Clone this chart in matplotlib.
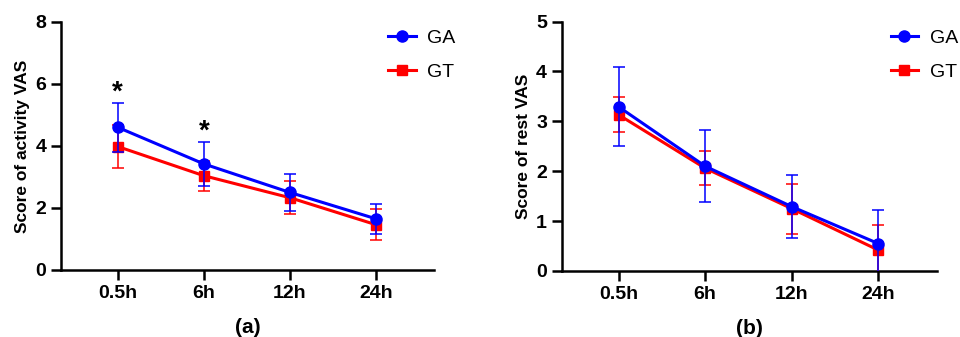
import numpy as np
import matplotlib.pyplot as plt
from matplotlib.lines import Line2D

plt.rcParams['font.family'] = ['Liberation Sans', 'DejaVu Sans']

# ---- data ----
times = ['0.5h', '6h', '12h', '24h']

act_ga = [4.6, 3.42, 2.5, 1.65]
act_ga_sd = [0.8, 0.72, 0.6, 0.49]
act_gt = [3.98, 3.04, 2.33, 1.46]
act_gt_sd = [0.68, 0.48, 0.54, 0.5]
act_stars = ['*', '*', '', '']
act_star_y = [5.72, 4.47, 0, 0]

rest_ga = [3.29, 2.1, 1.29, 0.55]
rest_ga_sd = [0.79, 0.72, 0.63, 0.67]
rest_gt = [3.13, 2.06, 1.25, 0.42]
rest_gt_sd = [0.35, 0.34, 0.5, 0.5]

blue = '#0000ff'
red = '#ff0000'

fig = plt.figure(figsize=(9.6, 3.37), dpi=100)
ax_a = fig.add_axes([0.0635, 0.199, 0.389, 0.736])
ax_b = fig.add_axes([0.585, 0.196, 0.391, 0.740])


def draw_panel(ax, ga, ga_sd, gt, gt_sd, ylim, yticks, ylabel, tag):
    x = np.arange(len(times))
    ax.errorbar(x, gt, yerr=gt_sd, color=red, marker='s', markersize=7.5,
                linewidth=2.2, elinewidth=1.1, capsize=4, capthick=1.1, zorder=3)
    ax.errorbar(x, ga, yerr=ga_sd, color=blue, marker='o', markersize=8,
                linewidth=2.2, elinewidth=1.1, capsize=4, capthick=1.1, zorder=4)
    ax.set_xlim(-0.66, 3.68)
    ax.set_ylim(*ylim)
    ax.set_yticks(yticks)
    ax.set_xticks(x)
    ax.set_xticklabels(times)
    for s in ['top', 'right']:
        ax.spines[s].set_visible(False)
    for s in ['left', 'bottom']:
        ax.spines[s].set_linewidth(1.8)
    ax.tick_params(axis='both', width=1.8, length=7, labelsize=14)
    for lbl in ax.get_xticklabels() + ax.get_yticklabels():
        lbl.set_fontweight('bold')
    ax.set_ylabel(ylabel, fontsize=12.5, fontweight='bold', labelpad=4)
    ax.set_xlabel(tag, fontsize=15, fontweight='bold', labelpad=12)
    handles = [Line2D([], [], color=blue, marker='o', markersize=8, linewidth=2.2),
               Line2D([], [], color=red, marker='s', markersize=7.5, linewidth=2.2)]
    ax.legend(handles, ['GA', 'GT'], loc='upper left',
              bbox_to_anchor=(0.83, 1.04), frameon=False, fontsize=14,
              handlelength=1.4, labelspacing=0.85, handletextpad=0.6)
    return ax


draw_panel(ax_a, act_ga, act_ga_sd, act_gt, act_gt_sd, (0, 8), [0, 2, 4, 6, 8],
           'Score of activity VAS', '(a)')
for i, s in enumerate(act_stars):
    if s:
        ax_a.text(i, act_star_y[i], s, ha='center', va='center',
                  fontsize=20, fontweight='bold')

draw_panel(ax_b, rest_ga, rest_ga_sd, rest_gt, rest_gt_sd, (0, 5), [0, 1, 2, 3, 4, 5],
           'Score of rest VAS', '(b)')

fig.savefig('out.png', dpi=100)
